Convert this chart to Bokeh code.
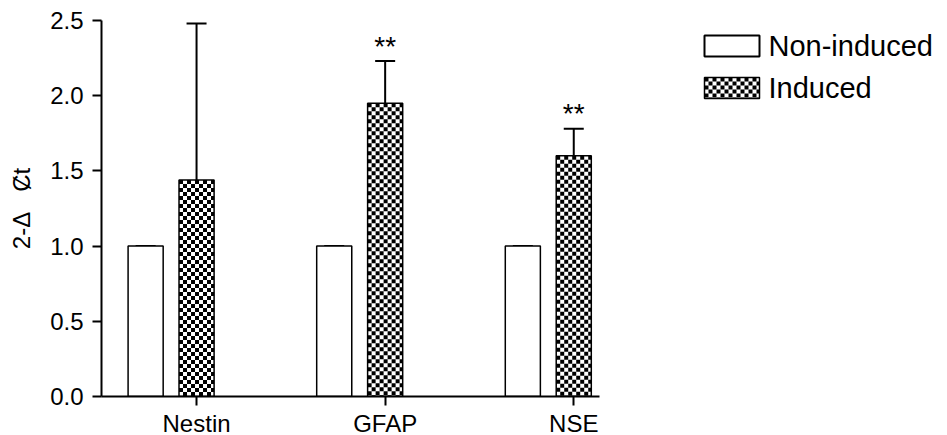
import math
from bokeh.plotting import figure
from bokeh.models import (ColumnDataSource, Whisker, TeeHead, FixedTicker, Range1d,
                          CustomJSTickFormatter)
from bokeh.core.properties import value
from bokeh.embed import file_html
from bokeh.resources import INLINE

# ---- data ----
genes = ["Nestin", "GFAP", "NSE"]
non_induced = [1.0, 1.0, 1.0]
non_induced_err = [0.0, 0.0, 0.0]
induced = [1.44, 1.95, 1.60]
induced_err = [1.04, 0.28, 0.18]
signif = ["", "**", "**"]
y_ticks = [0.0, 0.5, 1.0, 1.5, 2.0, 2.5]
series_names = ["Non-induced", "Induced"]
y_label = "2-Δ\u00a0\u00a0\u00a0Ȼt"

# ---- layout / style constants (pixels) ----
FONT = "Liberation Sans"
FRAME_L, FRAME_T, FRAME_W, FRAME_H = 101, 20, 846, 376
PX_PER_X = 188.6                      # pixels per category step
X_START = -0.504
X_AXIS_END = 2.137
Y_MAX = 2.5
PX_PER_Y = FRAME_H / Y_MAX
CELL = 4                              # checker cell size in px
GROUP_OFFSET = 0.27
BAR_W = 0.186

def px_x(px):
    return X_START + (px - FRAME_L) / PX_PER_X

def px_y(py):
    return (FRAME_T + FRAME_H - py) / PX_PER_Y

CW = CELL / PX_PER_X
CH = CELL / PX_PER_Y

def checker_cells(x0, x1, y0, y1):
    L, R, B, T = [], [], [], []
    nx = int(math.ceil((x1 - x0) / CW - 1e-9))
    ny = int(math.ceil((y1 - y0) / CH - 1e-9))
    for i in range(nx):
        for j in range(ny):
            if (i + j) % 2 == 0:
                L.append(x0 + i * CW)
                R.append(min(x0 + (i + 1) * CW, x1))
                T.append(y1 - j * CH)
                B.append(max(y1 - (j + 1) * CH, y0))
    return L, R, B, T

idx = list(range(len(genes)))
x_non = [i - GROUP_OFFSET for i in idx]
x_ind = [float(i) for i in idx]

src_non = ColumnDataSource(dict(x=x_non, top=non_induced,
                                upper=[v + e for v, e in zip(non_induced, non_induced_err)]))
src_ind = ColumnDataSource(dict(x=x_ind, top=induced,
                                upper=[v + e for v, e in zip(induced, induced_err)],
                                star=signif))

p = figure(frame_width=FRAME_W, frame_height=FRAME_H, output_backend="svg", toolbar_location=None,
           x_range=Range1d(X_START, X_START + FRAME_W / PX_PER_X), y_range=Range1d(0, Y_MAX),
           min_border_left=FRAME_L, min_border_right=0, min_border_top=FRAME_T, min_border_bottom=30)
p.outline_line_color = None
p.grid.grid_line_color = None
p.background_fill_color = "white"
p.border_fill_color = "white"

# checker pattern inside induced bars
cL, cR, cB, cT = [], [], [], []
for x, v in zip(x_ind, induced):
    a, b, c, d = checker_cells(x - BAR_W / 2, x + BAR_W / 2, 0.0, v)
    cL += a; cR += b; cB += c; cT += d

# legend geometry (pixels)
LEG_BOX_L, LEG_BOX_W, LEG_BOX_H = 704, 55, 21
LEG_TOPS = [35, 77]
LEG_TEXT_X = 768
a, b, c, d = checker_cells(px_x(LEG_BOX_L), px_x(LEG_BOX_L + LEG_BOX_W),
                           px_y(LEG_TOPS[1] + LEG_BOX_H), px_y(LEG_TOPS[1]))
cL += a; cR += b; cB += c; cT += d

p.quad(left=cL, right=cR, bottom=cB, top=cT, fill_color="black", line_color=None)

p.vbar(x="x", top="top", width=BAR_W, source=src_non, fill_color="white",
       line_color="black", line_width=1.5)
p.vbar(x="x", top="top", width=BAR_W, source=src_ind, fill_color=None,
       line_color="black", line_width=1.5)

for src in (src_non, src_ind):
    w = Whisker(source=src, base="x", upper="upper", lower="top", dimension="height",
                line_color="black", line_width=2,
                upper_head=TeeHead(size=20, line_width=2, line_color="black"),
                lower_head=None)
    p.add_layout(w)

p.text(x="x", y="upper", text="star", source=src_ind, text_align="center",
       text_baseline="alphabetic", y_offset=-15, text_font=value(FONT),
       text_font_size="28px", text_color="black")

# legend (drawn in data space beyond the x-axis bounds)
leg_left = [px_x(LEG_BOX_L)] * 2
leg_right = [px_x(LEG_BOX_L + LEG_BOX_W)] * 2
leg_top = [px_y(t) for t in LEG_TOPS]
leg_bot = [px_y(t + LEG_BOX_H) for t in LEG_TOPS]
p.quad(left=leg_left[:1], right=leg_right[:1], top=leg_top[:1], bottom=leg_bot[:1],
       fill_color="white", line_color="black", line_width=2)
p.quad(left=leg_left[1:], right=leg_right[1:], top=leg_top[1:], bottom=leg_bot[1:],
       fill_color=None, line_color="black", line_width=1.5)
p.text(x=[px_x(LEG_TEXT_X)] * 2, y=[(t + bb) / 2 for t, bb in zip(leg_top, leg_bot)],
       text=series_names, text_align="left", text_baseline="middle",
       text_font=value(FONT), text_font_size="29px", text_color="black")

# axes
p.xaxis.bounds = (X_START, X_AXIS_END)
p.xaxis.ticker = FixedTicker(ticks=x_ind)
p.xaxis.major_label_overrides = {i: g for i, g in zip(x_ind, genes)}
p.yaxis.ticker = FixedTicker(ticks=y_ticks)
p.yaxis.formatter = CustomJSTickFormatter(code="return tick.toFixed(1);")
for ax in (p.xaxis, p.yaxis):
    ax.axis_line_width = 2
    ax.axis_line_color = "black"
    ax.major_tick_line_width = 2
    ax.major_tick_in = 0
    ax.major_tick_out = 9
    ax.minor_tick_line_color = None
    ax.major_label_text_font = FONT
    ax.major_label_text_font_size = "24px"
    ax.major_label_text_color = "black"
p.xaxis.major_label_standoff = 4
p.yaxis.major_label_standoff = 9
p.yaxis.axis_label = y_label
p.yaxis.axis_label_text_font = FONT
p.yaxis.axis_label_text_font_size = "24px"
p.yaxis.axis_label_text_font_style = "normal"
p.yaxis.axis_label_text_color = "black"
p.yaxis.axis_label_standoff = 12

open("out.html", "w").write(file_html(p, INLINE))
